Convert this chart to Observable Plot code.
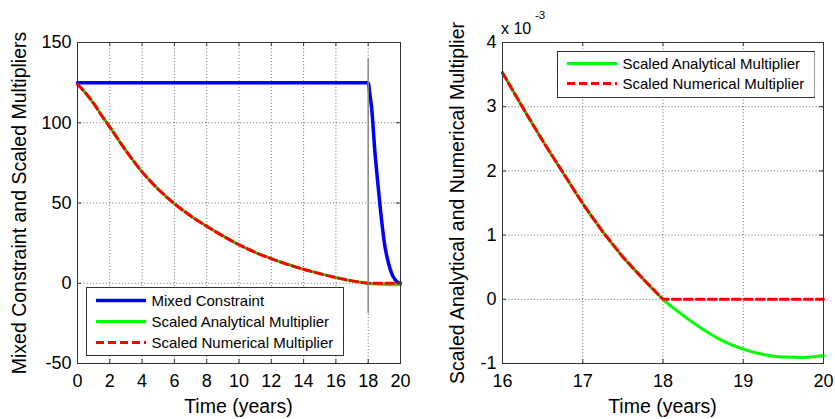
<!DOCTYPE html>
<html>
<head>
<meta charset="utf-8">
<script src="https://cdn.jsdelivr.net/npm/d3@7"></script>
<script src="https://cdn.jsdelivr.net/npm/@observablehq/plot@0.6"></script>
<style>
  html, body { margin: 0; padding: 0; background: #fff; }
  #wrap { position: relative; width: 835px; height: 419px; overflow: hidden; background: #fff;
          font-family: 'Liberation Sans', Arial, Helvetica, sans-serif; color: #000; }
  .panel { position: absolute; top: 0; }
  .lbl { position: absolute; white-space: nowrap; line-height: 1; font-size: 19.5px; }
  .legend { position: absolute; }
</style>
</head>
<body>
<div id="wrap"></div>
<script>
// ---------------- Data ----------------
// Left panel
const leftTime = [0, 0.5, 1, 1.5, 2, 3, 4, 5, 6, 7, 8, 9, 10, 11, 12, 13, 14, 15, 16, 16.5, 17, 17.5, 18, 18.5, 19, 19.5, 20];
const leftAnalytical = [124, 118.5, 112, 104.5, 97.3, 82.6, 69.4, 58.6, 49.6, 42, 35.5, 29.5, 24, 19.3, 15.3, 11.8, 8.7, 6, 3.53, 2.47, 1.49, 0.66, 0, -0.47, -0.77, -0.9, -0.87];
const leftNumerical  = [124, 118.5, 112, 104.5, 97.3, 82.6, 69.4, 58.6, 49.6, 42, 35.5, 29.5, 24, 19.3, 15.3, 11.8, 8.7, 6, 3.53, 2.47, 1.49, 0.66, 0, 0, 0, 0, 0];
const mixedTime = [0, 18, 18.1, 18.21, 18.41, 18.62, 18.83, 19.04, 19.25, 19.45, 19.66, 19.85, 20];
const mixedConstraint = [125, 125, 118, 109.5, 82.6, 59.9, 39.2, 22.7, 12.8, 6.2, 2.3, 0.4, 0];
const switchTime = [18];
const switchLineRange = [-19, 140];
const leftXTicks = [0, 2, 4, 6, 8, 10, 12, 14, 16, 18, 20];
const leftYTicks = [-50, 0, 50, 100, 150];

// Right panel
const rightTime = [16, 16.25, 16.5, 16.75, 17, 17.25, 17.5, 17.75, 18, 18.25, 18.5, 18.75, 19, 19.25, 19.5, 19.75, 20];
const rightAnalytical = [3.53e-3, 2.99e-3, 2.47e-3, 1.98e-3, 1.49e-3, 1.05e-3, 0.66e-3, 0.32e-3, 0, -0.25e-3, -0.47e-3, -0.65e-3, -0.775e-3, -0.86e-3, -0.9e-3, -0.905e-3, -0.875e-3];
const rightNumerical  = [3.53e-3, 2.99e-3, 2.47e-3, 1.98e-3, 1.49e-3, 1.05e-3, 0.66e-3, 0.32e-3, 0, 0, 0, 0, 0, 0, 0, 0, 0];
const rightXTicks = [16, 17, 18, 19, 20];
const rightYTicks = [-1e-3, 0, 1e-3, 2e-3, 3e-3, 4e-3];

// Text
const xLabel = "Time (years)";
const leftYLabel = "Mixed Constraint and Scaled Multipliers";
const rightYLabel = "Scaled Analytical and Numerical Multiplier";
const leftLegendLabels = ["Mixed Constraint", "Scaled Analytical Multiplier", "Scaled Numerical Multiplier"];
const rightLegendLabels = ["Scaled Analytical Multiplier", "Scaled Numerical Multiplier"];

// ---------------- Styles ----------------
const BLUE = "#0000ff", GREEN = "#00ff00", RED = "#ff0000";
const DASH = "8,4";
const GRID = "#6a6a6a";
const FRAME = "#333";
const FONT = "'Liberation Sans', Arial, Helvetica, sans-serif";

const wrap = document.getElementById("wrap");

function panel({left, width, marginLeft, marginRight, xDomain, yDomain, xTicks, yTicks, yFormat, lines, extra}) {
  const height = 419, marginTop = 42, marginBottom = 56;
  const iw = width - marginLeft - marginRight;
  const ih = height - marginTop - marginBottom;
  const tick = 4;
  const chart = Plot.plot({
    width, height, marginLeft, marginRight, marginTop, marginBottom,
    style: {fontFamily: FONT, fontSize: "18px", color: "#000", background: "transparent", overflow: "visible"},
    x: {domain: xDomain},
    y: {domain: yDomain},
    marks: [
      Plot.gridX(xTicks, {stroke: GRID, strokeOpacity: 1, strokeWidth: 1, strokeDasharray: "1,2.2"}),
      Plot.gridY(yTicks, {stroke: GRID, strokeOpacity: 1, strokeWidth: 1, strokeDasharray: "1,2.2"}),
      ...lines,
      ...(extra || []),
      Plot.ruleY(yTicks, {y: d => d, insetRight: iw - tick, stroke: FRAME}),
      Plot.ruleY(yTicks, {y: d => d, insetLeft: iw - tick, stroke: FRAME}),
      Plot.ruleX(xTicks, {x: d => d, insetTop: ih - tick, stroke: FRAME}),
      Plot.ruleX(xTicks, {x: d => d, insetBottom: ih - tick, stroke: FRAME}),
      Plot.frame({stroke: FRAME, strokeWidth: 1}),
      Plot.axisX({ticks: xTicks, tickSize: 0, tickPadding: 11, tickFormat: d => String(d), label: null}),
      Plot.axisY({ticks: yTicks, tickSize: 0, tickPadding: 6, tickFormat: yFormat, label: null})
    ]
  });
  const div = document.createElement("div");
  div.className = "panel";
  div.style.left = left + "px";
  div.appendChild(chart);
  wrap.appendChild(div);
}

// Left panel
const leftAnaData = leftTime.map((t, i) => ({t, v: leftAnalytical[i]}));
const leftNumData = leftTime.map((t, i) => ({t, v: leftNumerical[i]}));
const mixedData = mixedTime.map((t, i) => ({t, v: mixedConstraint[i]}));

panel({
  left: 0, width: 420, marginLeft: 77, marginRight: 20,
  xDomain: [0, 20], yDomain: [-50, 150],
  xTicks: leftXTicks, yTicks: leftYTicks, yFormat: d => String(d),
  lines: [
    Plot.line(mixedData, {x: "t", y: "v", stroke: BLUE, strokeWidth: 3.5, curve: "monotone-x"}),
    Plot.line(leftAnaData, {x: "t", y: "v", stroke: GREEN, strokeWidth: 3, curve: "monotone-x"}),
    Plot.line(leftNumData, {x: "t", y: "v", stroke: RED, strokeWidth: 3, strokeDasharray: DASH, curve: "monotone-x"})
  ],
  extra: [
    Plot.ruleX(switchTime, {x: d => d, y1: switchLineRange[0], y2: switchLineRange[1], stroke: "#8a8a8a", strokeWidth: 1.5})
  ]
});

// Right panel
const rightAnaData = rightTime.map((t, i) => ({t, v: rightAnalytical[i]}));
const rightNumData = rightTime.map((t, i) => ({t, v: rightNumerical[i]}));

panel({
  left: 420, width: 415, marginLeft: 82, marginRight: 12,
  xDomain: [16, 20], yDomain: [-1e-3, 4e-3],
  xTicks: rightXTicks, yTicks: rightYTicks, yFormat: d => String(Math.round(d * 1000)),
  lines: [
    Plot.line(rightAnaData, {x: "t", y: "v", stroke: GREEN, strokeWidth: 3, curve: "monotone-x"}),
    Plot.line(rightNumData, {x: "t", y: "v", stroke: RED, strokeWidth: 3, strokeDasharray: DASH, curve: "linear"})
  ]
});

// Axis titles
function addLabel(text, cx, cy, rotate) {
  const el = document.createElement("div");
  el.className = "lbl";
  el.textContent = text;
  el.style.left = cx + "px";
  el.style.top = cy + "px";
  el.style.transform = "translate(-50%,-50%)" + (rotate ? " rotate(-90deg)" : "");
  wrap.appendChild(el);
}
addLabel(xLabel, 238.5, 406.5, false);
addLabel(xLabel, 662.5, 406.5, false);
addLabel(leftYLabel, 20, 202.5, true);
addLabel(rightYLabel, 458, 202.5, true);

// Exponent label
const exp1 = document.createElement("div");
exp1.className = "lbl"; exp1.style.fontSize = "16px";
exp1.style.left = "501px"; exp1.style.top = "21.2px";
exp1.textContent = "x 10";
wrap.appendChild(exp1);
const exp2 = document.createElement("div");
exp2.className = "lbl"; exp2.style.fontSize = "11.5px";
exp2.style.left = "535px"; exp2.style.top = "10px";
exp2.textContent = "-3";
wrap.appendChild(exp2);

// Legends
function legend({left, top, width, height, labels, colors, dashes, widths, row0, rowStep}) {
  const svg = d3.create("svg")
    .attr("class", "legend")
    .attr("width", width).attr("height", height)
    .style("left", left + "px").style("top", top + "px")
    .style("font-family", FONT).style("font-size", "15px");
  svg.append("rect").attr("x", 0.5).attr("y", 0.5).attr("width", width - 1).attr("height", height - 1)
    .attr("fill", "#fff").attr("stroke", FRAME).attr("stroke-width", 1);
  labels.forEach((lab, i) => {
    const y = row0 + i * rowStep;
    svg.append("line").attr("x1", 10).attr("x2", 60).attr("y1", y).attr("y2", y)
      .attr("stroke", colors[i]).attr("stroke-width", widths[i])
      .attr("stroke-dasharray", dashes[i]);
    svg.append("text").attr("x", 65.5).attr("y", y).attr("dy", "0.35em").attr("fill", "#000").text(lab);
  });
  wrap.appendChild(svg.node());
}
legend({left: 85.7, top: 287.3, width: 258, height: 69, labels: leftLegendLabels,
        colors: [BLUE, GREEN, RED], dashes: [null, null, DASH], widths: [3.5, 3, 3], row0: 13.4, rowStep: 21});
legend({left: 556.7, top: 50.7, width: 258.5, height: 47, labels: rightLegendLabels,
        colors: [GREEN, RED], dashes: [null, DASH], widths: [3, 3], row0: 12.6, rowStep: 20});
</script>
</body>
</html>
